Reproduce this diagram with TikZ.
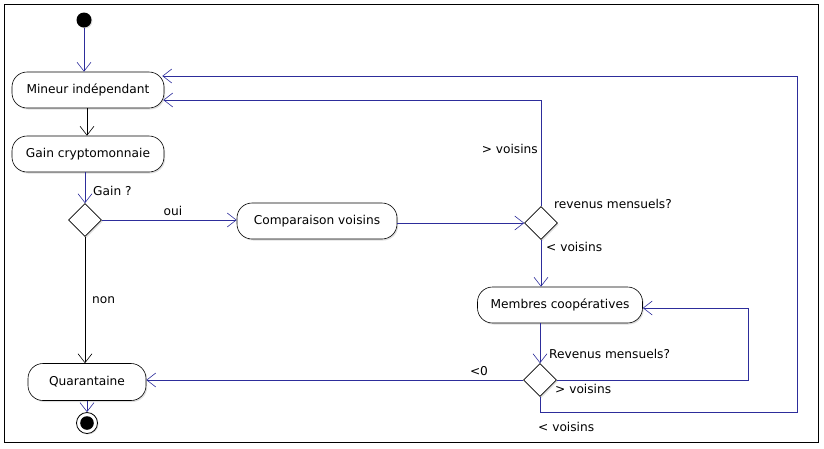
\documentclass[tikz,border=0pt]{standalone}
\usepackage{fontspec}
\setmainfont{DejaVu Sans}
\usetikzlibrary{arrows.meta,shapes.geometric,shadows}
\definecolor{lnblue}{RGB}{45,45,155}
\begin{document}
\begin{tikzpicture}[x=1pt,y=-1pt,
  font=\fontsize{12.2}{14}\selectfont,
  act/.style={draw=black,line width=0.6pt,fill=white,rounded corners=15pt,minimum height=36pt,inner sep=0pt,
    drop shadow={opacity=0.25,shadow xshift=1.2pt,shadow yshift=-1.5pt}},
  dec/.style={draw=black,line width=0.6pt,fill=white,diamond,aspect=1,minimum width=33pt,minimum height=33pt,inner sep=0pt,
    drop shadow={opacity=0.25,shadow xshift=1.2pt,shadow yshift=-1.5pt}},
  fl/.style={draw=lnblue,line width=0.6pt,-{Straight Barb[length=9pt,width=14pt,line width=0.6pt]}},
  flk/.style={draw=black,line width=0.6pt,-{Straight Barb[length=9pt,width=14pt,line width=0.6pt]}},
  ln/.style={draw=lnblue,line width=0.6pt},
  lbl/.style={inner sep=0pt,text=black}]
\useasboundingbox (0,0) rectangle (824,448);
\draw[line width=0.8pt] (4.5,4.5) rectangle (818,442.5);
% nodes
\node[circle,fill=black,minimum size=15pt,inner sep=0pt,drop shadow={opacity=0.25,shadow xshift=1pt,shadow yshift=-1pt}] (start) at (84,20) {};
\node[act,minimum width=152pt] (mineur) at (88,90) {Mineur indépendant};
\node[act,minimum width=152pt] (gain) at (88,154) {Gain cryptomonnaie};
\node[dec] (d1) at (85,220) {};
\node[act,minimum width=160pt] (comp) at (317,221) {Comparaison voisins};
\node[dec] (d2) at (541,223) {};
\node[act,minimum width=165pt] (memb) at (560,305) {Membres coopératives};
\node[dec] (d3) at (540,380) {};
\node[act,minimum width=118pt,minimum height=37pt] (quar) at (87,382) {Quarantaine};
\node[circle,draw=black,line width=0.8pt,fill=white,minimum size=21pt,inner sep=0pt,drop shadow={opacity=0.25,shadow xshift=1pt,shadow yshift=-1pt}] (end) at (87,423) {};
\fill[black] (end.center) circle (6.8pt);
% helper coordinates
\coordinate (ytop) at (0,76);
\coordinate (ymid) at (0,100);
\coordinate (yloop) at (0,308);
\coordinate (rloop) at (748,380);
\coordinate (rout) at (797,412);
% connectors
\draw[fl] (start) -- (start |- mineur.north);
\draw[flk] (mineur.south -| 87,0) -- (gain.north -| 87,0);
\draw[fl] (gain.south -| d1) -- (d1.north);
\draw[fl] (d1.east) -- (d1.east -| comp.west);
\draw[fl] (comp.east |- d2) -- (d2.west);
\draw[fl] (d2.south) -- (d2.south |- memb.north);
\draw[fl] (d2.north) |- ([xshift=-1pt]mineur.east |- ymid);
\draw[fl] (memb.south -| d3) -- (d3.north);
\draw[fl] (d3.east) -- (rloop) |- (memb.east |- yloop);
\draw[fl] (d3.west) -- (quar.east |- d3);
\draw[fl] (d3.south) |- (rout) |- ([xshift=-2pt]mineur.east |- ytop);
\draw[flk] (d1.south) -- (quar.north -| d1);
\draw[fl] (quar.south) -- (end.north);
% labels
\node[lbl,anchor=west] at (93,191) {Gain ?};
\node[lbl] at (173,211) {oui};
\node[lbl,anchor=west] at (92,300) {non};
\node[lbl,anchor=east] at (538,149) {> voisins};
\node[lbl,anchor=west] at (554,204) {revenus mensuels?};
\node[lbl,anchor=west] at (546,247) {< voisins};
\node[lbl,anchor=west] at (549,354) {Revenus mensuels?};
\node[lbl,anchor=west] at (555,389) {> voisins};
\node[lbl] at (479,371) {<0};
\node[lbl,anchor=west] at (538,427) {< voisins};
\end{tikzpicture}
\end{document}
